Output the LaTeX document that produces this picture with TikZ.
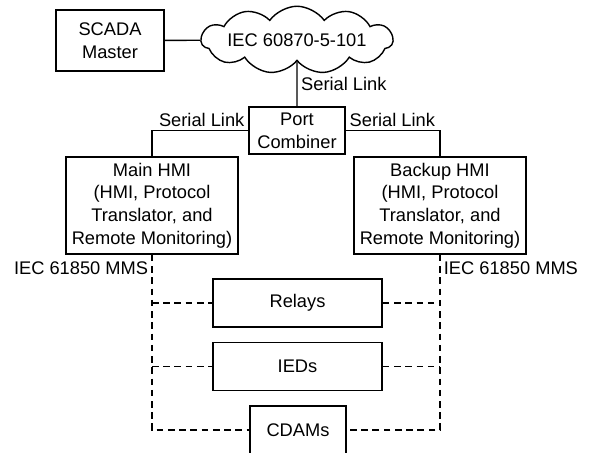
\documentclass[tikz,border=0pt]{standalone}
\usepackage{fontspec}
\setmainfont{Liberation Sans}
\usetikzlibrary{shapes.symbols}

\tikzset{
  box/.style={draw, line width=0.9pt, align=center, inner sep=1pt},
  netcloud/.style={draw, cloud, cloud puffs=11, cloud puff arc=110, cloud ignores aspect,
    line width=0.8pt, minimum width=3.6cm, minimum height=1.35cm, inner sep=0pt},
  link/.style={line width=0.8pt},
  mms/.style={line width=0.8pt, dash pattern=on 3.8pt off 2.6pt}
}

\begin{document}
\begin{tikzpicture}[font=\fontsize{10.4}{12.9}\selectfont]
      \useasboundingbox (0,0) rectangle (11.8,-9.06);
      \node[box, minimum width=2.16cm, minimum height=1.22cm] (scada) at (2.2,-0.81)
        {SCADA\\Master};
      \node[netcloud] (iec101) at (5.94,-0.8) {IEC 60870-5-101};
      \node[box, minimum width=1.92cm, minimum height=0.94cm] (comb) at (5.94,-2.61)
        {Port\\Combiner};
      \node[box, minimum width=3.44cm, minimum height=1.94cm] (mainhmi) at (3.04,-4.11)
        {Main HMI\\(HMI, Protocol\\Translator, and\\Remote Monitoring)};
      \node[box, minimum width=3.44cm, minimum height=1.94cm] (backhmi) at (8.8,-4.11)
        {Backup HMI\\(HMI, Protocol\\Translator, and\\Remote Monitoring)};
      \node[box, minimum width=3.38cm, minimum height=0.95cm] (relays) at (5.95,-6.06) {Relays};
      \node[box, minimum width=3.38cm, minimum height=0.96cm] (ieds) at (5.95,-7.33) {IEDs};
      \node[box, minimum width=1.91cm, minimum height=0.97cm] (cdams) at (5.96,-8.6) {CDAMs};

      % serial links
      \draw[link] (scada) -- (iec101);
      \draw[link] (iec101.south) -- node[right, inner sep=2pt] (sl0) {Serial Link} (comb.north);
      \draw[link] (comb.west) -- (mainhmi.north |- comb.west) -- (mainhmi.north);
      \draw[link] (comb.east) -- (backhmi.north |- comb.east) -- (backhmi.north);
      \node[anchor=south east, inner sep=2pt] (sl1) at (comb.west) {Serial Link};
      \node[anchor=south west, inner sep=2pt] (sl2) at (comb.east) {Serial Link};

      % station bus
      \draw[mms] (mainhmi.south) -- (mainhmi.south |- cdams.west) -- (cdams.west);
      \draw[mms] (backhmi.south) -- (backhmi.south |- cdams.east) -- (cdams.east);
      \foreach \dev in {relays, ieds} {
        \draw[mms] (mainhmi.south |- \dev.west) -- (\dev.west);
        \draw[mms] (\dev.east) -- (backhmi.south |- \dev.east);
      }
      \node[anchor=east, inner sep=2pt] (mms1) at (3.04,-5.36) {IEC 61850 MMS};
      \node[anchor=west, inner sep=2pt] (mms2) at (8.8,-5.36) {IEC 61850 MMS};
\end{tikzpicture}
\end{document}
